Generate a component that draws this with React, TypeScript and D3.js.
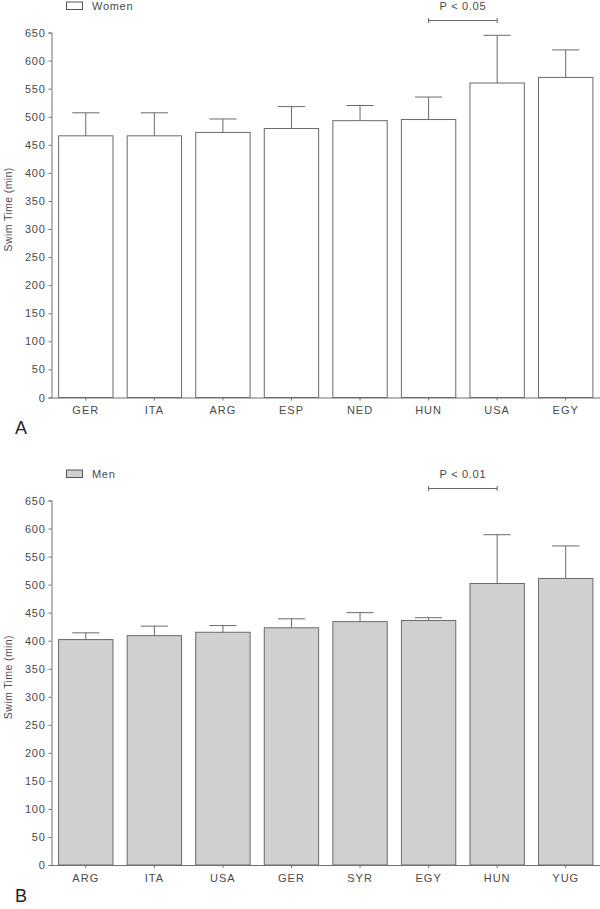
import React, { useRef, useEffect } from 'react';
import * as d3 from 'd3';

const womenCountries = ['GER', 'ITA', 'ARG', 'ESP', 'NED', 'HUN', 'USA', 'EGY'];
const womenMeans = [466, 466, 472, 479, 493, 495, 560, 570];
const womenErrTop = [507, 507, 496, 518, 520, 535, 645, 619];

const menCountries = ['ARG', 'ITA', 'USA', 'GER', 'SYR', 'EGY', 'HUN', 'YUG'];
const menMeans = [402, 409, 415, 423, 434, 436, 502, 511];
const menErrTop = [414, 426, 427, 439, 450, 441, 589, 569];

const yTicks = [0, 50, 100, 150, 200, 250, 300, 350, 400, 450, 500, 550, 600, 650];

const TEXT = '#4a4a4a';
const AXIS = '#707070';

function App() {
    const svgRef = useRef<SVGSVGElement>(null);

    useEffect(() => {
        const svg = d3.select(svgRef.current);
        svg.selectAll('*').remove();

        const drawPanel = (opts) => {
            const { top, bottom, cats, means, errs, fill, legend, letter, sigFrom, sigTo, sigText } = opts;
            const g = svg.append('g');

            const x = d3.scaleBand()
                .domain(cats)
                .range([51.5, 600])
                .paddingInner(0.207)
                .paddingOuter(0.1035);
            const y = d3.scaleLinear().domain([0, 650]).range([bottom, top]);
            const bw = x.bandwidth();

            // y axis
            const yAxis = g.append('g')
                .attr('transform', 'translate(51.5,0)')
                .call(d3.axisLeft(y).tickValues(yTicks).tickSize(3).tickPadding(3));
            yAxis.select('.domain').attr('stroke', AXIS);
            yAxis.selectAll('.tick line').attr('stroke', AXIS);
            yAxis.selectAll('.tick text')
                .attr('fill', TEXT)
                .attr('font-size', 11)
                .attr('letter-spacing', 0.7)
                .attr('font-family', 'Liberation Sans, Arial, sans-serif');

            // bars
            g.selectAll('rect.bar').data(cats)
                .enter().append('rect')
                .attr('class', 'bar')
                .attr('x', d => x(d))
                .attr('y', (d, i) => y(means[i]))
                .attr('width', bw)
                .attr('height', (d, i) => y(0) - y(means[i]))
                .attr('fill', fill)
                .attr('stroke', '#6a6a6a')
                .attr('stroke-width', 1);

            // error bars
            g.selectAll('line.err').data(cats)
                .enter().append('line')
                .attr('x1', d => x(d) + bw / 2)
                .attr('x2', d => x(d) + bw / 2)
                .attr('y1', (d, i) => y(means[i]))
                .attr('y2', (d, i) => y(errs[i]))
                .attr('stroke', '#6a6a6a');
            g.selectAll('line.cap').data(cats)
                .enter().append('line')
                .attr('x1', d => x(d) + bw / 4)
                .attr('x2', d => x(d) + bw * 3 / 4)
                .attr('y1', (d, i) => y(errs[i]))
                .attr('y2', (d, i) => y(errs[i]))
                .attr('stroke', '#6a6a6a');

            // x axis
            const xAxis = g.append('g')
                .attr('transform', `translate(0,${bottom})`)
                .call(d3.axisBottom(x).tickSize(3).tickPadding(6).tickSizeOuter(0));
            xAxis.select('.domain').attr('stroke', AXIS);
            xAxis.selectAll('.tick line').attr('stroke', AXIS);
            xAxis.selectAll('.tick text')
                .attr('fill', TEXT)
                .attr('font-size', 11)
                .attr('letter-spacing', 1)
                .attr('font-family', 'Liberation Sans, Arial, sans-serif');

            // y title
            g.append('text')
                .attr('transform', `translate(12,${y(335)}) rotate(-90)`)
                .attr('text-anchor', 'middle')
                .attr('fill', TEXT)
                .attr('font-size', 10.5)
                .attr('letter-spacing', 0.4)
                .attr('font-family', 'Liberation Sans, Arial, sans-serif')
                .text('Swim Time (min)');

            // legend
            g.append('rect')
                .attr('x', 66.5)
                .attr('y', top - 30.5)
                .attr('width', 16)
                .attr('height', 7.5)
                .attr('fill', fill)
                .attr('stroke', '#555');
            g.append('text')
                .attr('x', 92)
                .attr('y', top - 23)
                .attr('fill', TEXT)
                .attr('font-size', 11)
                .attr('letter-spacing', 0.7)
                .attr('font-family', 'Liberation Sans, Arial, sans-serif')
                .text(legend);

            // panel letter
            g.append('text')
                .attr('x', 15)
                .attr('y', bottom + 36.5)
                .attr('fill', '#222')
                .attr('font-size', 18)
                .attr('font-family', 'Liberation Sans, Arial, sans-serif')
                .text(letter);

            // significance bracket
            const x1 = x(sigFrom) + bw / 2;
            const x2 = x(sigTo) + bw / 2;
            const by = top - 12;
            g.append('line').attr('x1', x1).attr('x2', x2).attr('y1', by).attr('y2', by).attr('stroke', '#666');
            g.append('line').attr('x1', x1).attr('x2', x1).attr('y1', by - 2.5).attr('y2', by + 2.5).attr('stroke', '#666');
            g.append('line').attr('x1', x2).attr('x2', x2).attr('y1', by - 2.5).attr('y2', by + 2.5).attr('stroke', '#666');
            g.append('text')
                .attr('x', (x1 + x2) / 2)
                .attr('y', by - 11)
                .attr('text-anchor', 'middle')
                .attr('fill', TEXT)
                .attr('font-size', 11)
                .attr('letter-spacing', 0.7)
                .attr('font-family', 'Liberation Sans, Arial, sans-serif')
                .text(sigText);
        };

        drawPanel({
            top: 32.5, bottom: 397.5, cats: womenCountries, means: womenMeans, errs: womenErrTop,
            fill: '#ffffff', legend: 'Women', letter: 'A', sigFrom: 'HUN', sigTo: 'USA', sigText: 'P < 0.05'
        });
        drawPanel({
            top: 500.5, bottom: 865, cats: menCountries, means: menMeans, errs: menErrTop,
            fill: '#d0d0d0', legend: 'Men', letter: 'B', sigFrom: 'EGY', sigTo: 'HUN', sigText: 'P < 0.01'
        });
    }, []);

    return (
        <div style={{ position: 'absolute', left: 0, top: 0 }}>
            <svg ref={svgRef} width={600} height={909} style={{ display: 'block', background: '#fff' }} />
        </div>
    );
}

export default App;
